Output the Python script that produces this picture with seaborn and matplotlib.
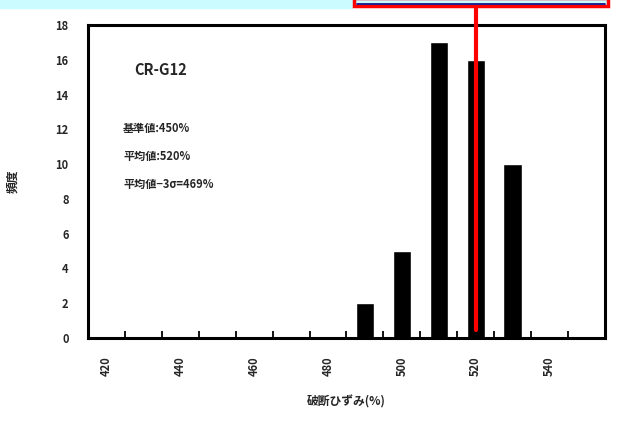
import seaborn as sns
import matplotlib.pyplot as plt
import matplotlib.patches as mpatches
import pandas as pd

# histogram of break strain (破断ひずみ) for CR-G12
bins = [420, 430, 440, 450, 460, 470, 480, 490, 500, 510, 520, 530, 540, 550]
counts = [0, 0, 0, 0, 0, 0, 0, 2, 5, 17, 16, 10, 0, 0]
tick_values = [420, 440, 460, 480, 500, 520, 540]
mean_value = 520
notes = ["基準値:450%", "平均値:520%", "平均値−3σ=469%"]
sample_name = "CR-G12"

sns.set_style("white")
plt.rcParams['font.family'] = ['Noto Sans CJK JP', 'DejaVu Sans']
plt.rcParams['font.weight'] = 'bold'

df = pd.DataFrame({'bin': [str(b) for b in bins], 'count': counts})

fig = plt.figure(figsize=(6.18, 4.21), dpi=100)
ax = fig.add_axes([88 / 618, 83 / 421, 517 / 618, 313 / 421])

sns.barplot(data=df, x='bin', y='count', order=df['bin'], color='black',
            width=0.5, saturation=1, ax=ax)

ax.set_xlim(-0.5, len(bins) - 0.5)
ax.set_ylim(0, 18)
ax.set_yticks(range(0, 19, 2))
ax.set_yticklabels([str(v) for v in range(0, 19, 2)], fontsize=8, fontweight='bold')

pos = [bins.index(v) for v in tick_values]
ax.set_xticks(pos)
ax.set_xticklabels([str(v) for v in tick_values], rotation=90, fontsize=8, fontweight='bold')
ax.set_xticks([i + 0.5 for i in range(len(bins) - 1)], minor=True)
ax.tick_params(axis='x', which='major', bottom=True, length=0, pad=13)
ax.tick_params(axis='x', which='minor', bottom=True, direction='in', length=5,
               width=1.3, color='black')
ax.tick_params(axis='y', length=0, pad=14)

for s in ax.spines.values():
    s.set_visible(True)
    s.set_color('black')
    s.set_linewidth(2.2)

ax.set_xlabel("破断ひずみ(%)", fontsize=8.5, fontweight='bold', labelpad=14)
ax.set_ylabel("頻度", fontsize=8.5, fontweight='bold', labelpad=26)

ax.text(0.09, 0.855, sample_name, transform=ax.transAxes, fontsize=10.5,
        fontweight='bold', va='center')
for i, t in enumerate(notes):
    ax.text(0.068, 0.67 - i * 0.09, t, transform=ax.transAxes, fontsize=8,
            fontweight='bold', va='center')

# mean marker drawn in red, running up to the box at the top
mean_pos = (mean_value - bins[0]) / (bins[1] - bins[0])
ax.plot([mean_pos, mean_pos], [0.45, 19.8], color='red', lw=3, clip_on=False, zorder=5)

# top banner strip
fig.patches.append(mpatches.Rectangle((0, 1 - 8 / 421), 352 / 618, 8 / 421,
                                      transform=fig.transFigure, color='#ccfbff', zorder=0))
fig.patches.append(mpatches.Rectangle((354 / 618, 1 - 6 / 421), 254 / 618, 8 / 421,
                                      transform=fig.transFigure, facecolor='#ccfbff',
                                      edgecolor='red', lw=2.5, zorder=3))
fig.lines.append(plt.Line2D([357 / 618, 605 / 618], [1 - 3.5 / 421, 1 - 3.5 / 421],
                            transform=fig.transFigure, color='#000080', lw=1.2, zorder=4))

fig.savefig('out.png', dpi=100)
